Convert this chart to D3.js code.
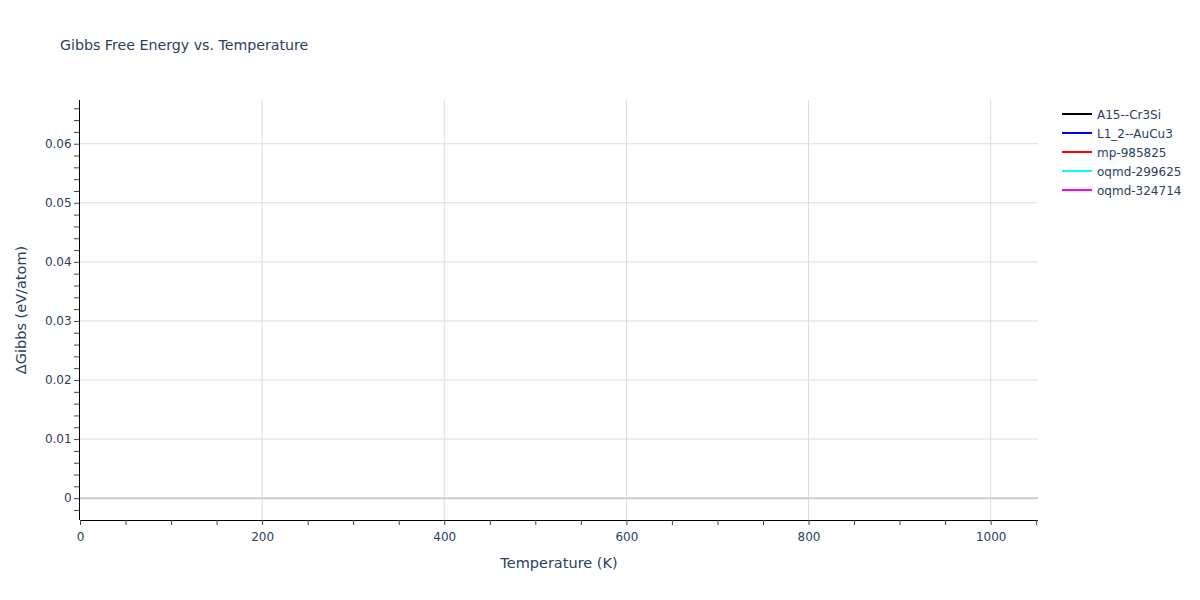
<!DOCTYPE html>
<html>
<head>
<meta charset="utf-8">
<script src="https://cdn.jsdelivr.net/npm/d3@7"></script>
<style>
  body { margin: 0; background: #fff; }
  svg { font-family: "DejaVu Sans", Verdana, sans-serif; }
</style>
</head>
<body>
<svg id="chart" width="1200" height="600"></svg>
<script>
// Data (the reference shows no visible traces; only legend entries)
const seriesNames = ["A15--Cr3Si", "L1_2--AuCu3", "mp-985825", "oqmd-299625", "oqmd-324714"];
const seriesColors = ["#000000", "#0000ff", "#ff0000", "#00ffff", "#ff00ff"];
const temperatures = [];
const seriesValues = [[], [], [], [], []];
const xTicks = [0, 200, 400, 600, 800, 1000];
const yTicks = [0, 0.01, 0.02, 0.03, 0.04, 0.05, 0.06];
const xDomain = [0, 1052];
const yDomain = [-0.0037, 0.0674];

(function () {
const svg = d3.select("#chart");
const pL = 80, pR = 1038, pT = 100, pB = 520;
const x = d3.scaleLinear().domain(xDomain).range([pL, pR]);
const y = d3.scaleLinear().domain(yDomain).range([pB, pT]);
const textColor = "#2a3f5f";
const fam = "\"DejaVu Sans\", Verdana, sans-serif";

// gridlines
svg.append("g").selectAll("line").data(xTicks.filter(d => d > 0)).join("line")
  .attr("x1", d => x(d)).attr("x2", d => x(d)).attr("y1", pT).attr("y2", pB)
  .attr("stroke", "#dddddd").attr("stroke-width", 1);
svg.append("g").selectAll("line").data(yTicks.filter(d => d !== 0)).join("line")
  .attr("x1", pL).attr("x2", pR).attr("y1", d => y(d)).attr("y2", d => y(d))
  .attr("stroke", "#dddddd").attr("stroke-width", 1);
// zero line
svg.append("line").attr("x1", pL).attr("x2", pR).attr("y1", y(0)).attr("y2", y(0))
  .attr("stroke", "#cccccc").attr("stroke-width", 2);

// series lines
const line = d3.line().x((d, i) => x(temperatures[i])).y(d => y(d));
seriesValues.forEach((vals, i) => {
  if (!vals.length) return;
  svg.append("path").datum(vals).attr("d", line).attr("fill", "none")
    .attr("stroke", seriesColors[i]).attr("stroke-width", 2);
});

// axes
const xMinor = d3.range(0, 1051, 50);
const yMinor = d3.range(-0.002, 0.0674, 0.002);
const xAxis = d3.axisBottom(x).tickValues(xMinor).tickSize(5)
  .tickFormat(d => xTicks.includes(d) ? d3.format("d")(d) : "");
const gx = svg.append("g").attr("transform", `translate(0,${pB})`).call(xAxis);
gx.select(".domain").attr("stroke", "#000").attr("d", `M${pL},0.5H${pR}`);
gx.selectAll(".tick line").attr("stroke", "#444");
gx.selectAll(".tick text").attr("fill", textColor).attr("font-size", 12).attr("dy", "1.05em");

const yAxis = d3.axisLeft(y).tickValues(yMinor).tickSize(5)
  .tickFormat(d => {
    const m = yTicks.find(t => Math.abs(t - d) < 1e-9);
    return m === undefined ? "" : (m === 0 ? "0" : d3.format(".2f")(m));
  });
const gy = svg.append("g").attr("transform", `translate(${pL - 1},0)`).call(yAxis);
gy.select(".domain").attr("stroke", "#000").attr("d", `M0.5,${pT}V${pB}`);
gy.selectAll(".tick line").attr("stroke", "#444");
gy.selectAll(".tick text").attr("fill", textColor).attr("font-size", 12).attr("dx", "0.05em");
svg.selectAll(".tick text").attr("font-family", fam);

// titles
svg.append("text").attr("x", 60).attr("y", 50).attr("fill", textColor).attr("font-size", 14.2)
  .text("Gibbs Free Energy vs. Temperature");
svg.append("text").attr("x", 559).attr("y", 568).attr("text-anchor", "middle")
  .attr("fill", textColor).attr("font-size", 14.5).text("Temperature (K)");
svg.append("text").attr("transform", `translate(26,${(pT + pB) / 2}) rotate(-90)`)
  .attr("text-anchor", "middle").attr("fill", textColor).attr("font-size", 14.5)
  .text("ΔGibbs (eV/atom)");

// legend
const lg = svg.append("g");
seriesNames.forEach((name, i) => {
  const yy = 114 + i * 19;
  lg.append("line").attr("x1", 1062).attr("x2", 1092).attr("y1", yy).attr("y2", yy)
    .attr("stroke", seriesColors[i]).attr("stroke-width", 2);
  lg.append("text").attr("x", 1097).attr("y", yy + 4.5).attr("fill", textColor)
    .attr("font-size", 12).text(name);
});
})();
</script>
</body>
</html>
